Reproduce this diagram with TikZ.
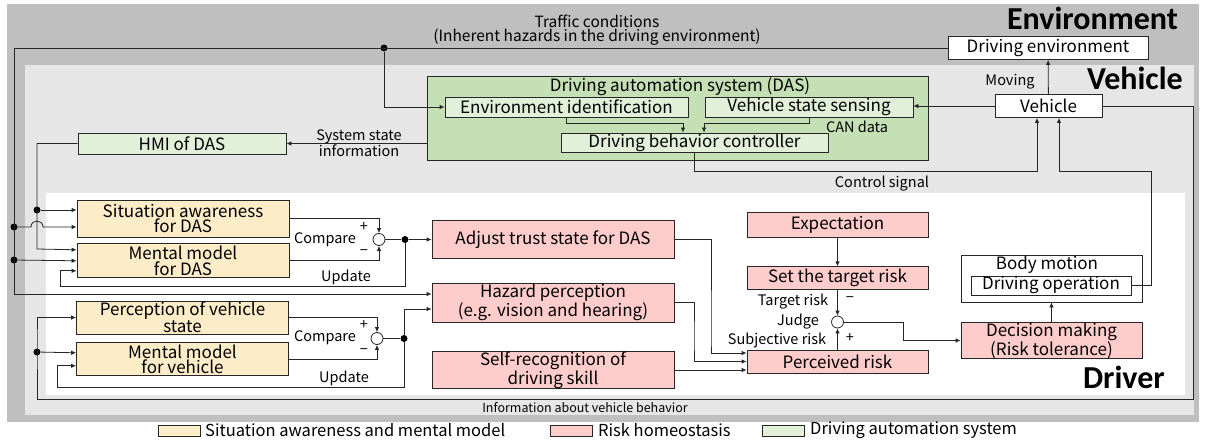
\documentclass[tikz,border=0pt]{standalone}
\usepackage{fontspec}
\setmainfont{Noto Sans CJK JP}
\newfontfamily\titlefont{Carlito}
\usetikzlibrary{arrows.meta, positioning, calc}

\definecolor{envgray}{HTML}{BFBFBF}
\definecolor{vehgray}{HTML}{E6E6E6}
\definecolor{dasgreen}{HTML}{C5E0B4}
\definecolor{daslight}{HTML}{E2F0D9}
\definecolor{sayellow}{HTML}{FCEDC8}
\definecolor{rhpink}{HTML}{FFCCCC}
\definecolor{linegray}{HTML}{262626}

\begin{document}
\begin{tikzpicture}[
    x=1pt, y=-1pt,
    font=\fontsize{17}{15.5}\selectfont,
    % base style for all boxes
    box/.style={
      rectangle,
      draw=linegray,
      line width=0.8pt,
      inner sep=0pt,
      align=center
    },
    % situation awareness and mental model
    sabox/.style={box, fill=sayellow, minimum width=212pt},
    % risk homeostasis
    rhbox/.style={box, fill=rhpink},
    % driving automation system
    dasbox/.style={box, fill=daslight},
    % white boxes (environment, vehicle, body)
    plainbox/.style={box, fill=white},
    % comparison circles
    sumnode/.style={circle, draw=linegray, line width=0.8pt, fill=white, minimum size=12pt, inner sep=0pt},
    % junction dots
    dot/.style={circle, fill=black, minimum size=7pt, inner sep=0pt},
    % connectors
    wire/.style={draw=linegray, line width=0.8pt},
    arr/.style={wire, -{Latex[length=5pt,width=4.5pt]}},
    % connector labels
    lbl/.style={font=\fontsize{14.5}{15}\selectfont, inner sep=0pt, align=center},
    % region titles
    regiontitle/.style={font=\titlefont\bfseries\fontsize{32}{32}\selectfont, inner sep=0pt},
    % legend
    legendbox/.style={box, minimum width=42pt, minimum height=11pt},
    legendtext/.style={font=\fontsize{16.5}{16.5}\selectfont, inner sep=0pt, anchor=west}
  ]
  \useasboundingbox (0,0) rectangle (1205,441);

  % --- REGIONS ---
  \fill[envgray] (7,4) rectangle (1199,422);
  \fill[vehgray] (25,65) rectangle (1194,415);
  \fill[white] (46,193) rectangle (1185,395);

  \node[regiontitle, anchor=base east] at (1178,30) {Environment};
  \node[regiontitle, anchor=base east] at (1183,90) {Vehicle};
  \node[regiontitle, anchor=base east] at (1165,388) {Driver};

  % --- ENVIRONMENT AND VEHICLE ---
  \node[plainbox, minimum width=200pt, minimum height=23pt] (drivenv) at (1048,48) {Driving environment};
  \node[plainbox, minimum width=107pt, minimum height=23pt] (vehicle) at (1048.5,106) {Vehicle};

  % Driving automation system
  \node[box, fill=dasgreen, minimum width=501pt, minimum height=84pt] (das) at (677.5,118) {};
  \node[inner sep=0pt] (dastitle) at (680,87) {Driving automation system (DAS)};
  \node[dasbox, minimum width=243pt, minimum height=20pt] (envid) at (566.5,107) {Environment identification};
  \node[dasbox, minimum width=208pt, minimum height=20pt] (vss) at (809,107) {Vehicle state sensing};
  \node[dasbox, minimum width=267pt, minimum height=19pt] (dbc) at (694.5,142.5) {Driving behavior controller};
  \node[dasbox, minimum width=208pt, minimum height=21pt] (hmi) at (182,143.5) {HMI of DAS};

  % --- DRIVER ---
  \node[sabox, minimum height=37pt] (sadas) at (183,218.5) {Situation awareness\\for DAS};
  \node[sabox, minimum height=34pt, below=6pt of sadas] (mmdas) {Mental model\\for DAS};
  \node[sabox, minimum height=33pt] (pvs) at (182.5,317.5) {Perception of vehicle\\state};
  \node[sabox, minimum height=33pt, below=8pt of pvs] (mmveh) {Mental model\\for vehicle};

  \node[sumnode] (cmp1) at (379,239.5) {};
  \node[sumnode] (cmp2) at (377,338.5) {};

  \node[rhbox, minimum width=242pt, minimum height=38pt] (trust) at (553,239.5) {Adjust trust state for DAS};
  \node[rhbox, minimum width=242pt, minimum height=39pt] (hazard) at (553,302.5) {Hazard perception\\(e.g. vision and hearing)};
  \node[rhbox, minimum width=242pt, minimum height=36pt] (selfrec) at (553,370) {Self-recognition of\\driving skill};

  \node[rhbox, minimum width=181pt, minimum height=25pt] (expect) at (837.5,224.5) {Expectation};
  \node[rhbox, minimum width=181pt, minimum height=23pt, below=29pt of expect] (target) {Set the target risk};
  \node[rhbox, minimum width=181pt, minimum height=23pt] (perceived) at (837.5,361.5) {Perceived risk};
  \node[sumnode] (judge) at (837.5,322) {};

  \node[plainbox, minimum width=181pt, minimum height=47pt] (body) at (1051.5,278.5) {};
  \node[inner sep=0pt] at (1047,265) {Body motion};
  \node[plainbox, minimum width=160pt, minimum height=19pt] (drvop) at (1051,285.5) {Driving operation};
  \node[rhbox, minimum width=181pt, minimum height=35pt] (decision) at (1051.5,340.5) {Decision making\\(Risk tolerance)};

  % junction dots
  \node[dot] (dtraf) at (384,48) {};
  \node[dot] (dsa) at (14,227) {};
  \node[dot] (dmm) at (14,260) {};
  \node[dot] (dhmi) at (37,210) {};
  \node[dot] (dcmp1) at (405,239.5) {};
  \node[dot] (dinfo) at (37,352) {};
  \node[dot] (dcmp2) at (404,338.5) {};

  % --- CONNECTORS ---
  % traffic conditions
  \draw[arr] (drivenv.west) -| (14,294) -- ([yshift=8.5pt]hazard.west);
  \draw[arr] (dtraf) |- (envid.west);
  \draw[arr] (dsa) -- (31,227) .. controls (31,219) and (43,219) .. (43,227) -- ([yshift=-8.5pt]sadas.west);
  \draw[arr] (dmm) -- (mmdas.west);

  % inside the vehicle
  \draw[arr] (vehicle) -- (drivenv);
  \draw[arr] (vehicle.west) -- (vss.east |- vehicle.west);
  \draw[arr] (envid.south) |- (683,123) -- ([xshift=-11.5pt]dbc.north);
  \draw[arr] (vss.south) |- (704,123) -- ([xshift=9.5pt]dbc.north);
  \draw[arr] (das.west |- hmi.east) -- (hmi.east);
  \draw[arr] (dbc.south) |- (1037,171) -| ([xshift=-11.5pt]vehicle.south);
  \draw[arr] (drvop.east) -| (1151,171) -| ([xshift=10.5pt]vehicle.south);

  % HMI to situation awareness and mental model
  \draw[arr] (hmi.west) -| (37,249) -- ([yshift=11pt]mmdas.west);
  \draw[arr] (dhmi) -- ([yshift=8.5pt]sadas.west);

  % compare loop for DAS
  \draw[arr] (sadas.east) -| (cmp1.north);
  \draw[arr] (mmdas.east) -| (cmp1.south);
  \draw[wire] (cmp1.east) -- (dcmp1);
  \draw[arr] (dcmp1) -- (trust.west);
  \draw[arr] (dcmp1) |- (60,286) |- ([yshift=-10pt]mmdas.west);

  % information about vehicle behavior
  \draw[arr] (vehicle.east) -| (1193,399) -| (37,340) |- (pvs.west);
  \draw[arr] (dinfo) -- ([yshift=6.5pt]mmveh.west);

  % compare loop for vehicle
  \draw[arr] (pvs.east) -| (cmp2.north);
  \draw[arr] (mmveh.east) -| (cmp2.south);
  \draw[wire] (cmp2.east) -- (dcmp2);
  \draw[arr] (dcmp2) |- ([yshift=-6.5pt]hazard.west);
  \draw[arr] (dcmp2) |- (57,387) |- ([yshift=-6.5pt]mmveh.west);

  % risk homeostasis
  \draw[arr] (trust.east) -| (711,340) |- ([yshift=8.5pt]perceived.west);
  \draw[arr] (hazard.east) -| (694,340) |- (perceived.west);
  \draw[arr] (selfrec.east) -- ([yshift=-8.5pt]perceived.west);
  \draw[arr] (expect) -- (target);
  \draw[arr] (target) -- (judge);
  \draw[arr] (perceived) -- (judge);
  \draw[arr] (judge.east) -| (903,330) |- (decision.west);
  \draw[arr] (decision) -- (body);

  % --- LABELS ---
  \node[lbl, font=\fontsize{15.5}{14.5}\selectfont] at (597,30) {Traffic conditions\\(Inherent hazards in the driving environment)};
  \node[lbl] at (1010,82) {Moving};
  \node[lbl] at (857,127) {CAN data};
  \node[lbl] at (359,143.5) {System state\\information};
  \node[lbl] at (882,184) {Control signal};
  \node[lbl] at (364,227) {+};
  \node[lbl] at (364,253) {−};
  \node[lbl] at (325,240) {Compare};
  \node[lbl] at (346,277) {Update};
  \node[lbl] at (364,325) {+};
  \node[lbl] at (364,352) {−};
  \node[lbl] at (325,338) {Compare};
  \node[lbl] at (344,378) {Update};
  \node[lbl] at (793,302) {Target risk};
  \node[lbl] at (798,322) {Judge};
  \node[lbl] at (777,340) {Subjective risk};
  \node[lbl] at (850,300) {−};
  \node[lbl] at (850,338) {+};
  \node[lbl, font=\fontsize{12.5}{12}\selectfont] at (585,408) {Information about vehicle behavior};

  % --- LEGEND ---
  \node[legendbox, fill=sayellow] (legsa) at (179,430.5) {};
  \node[legendtext] at (205,430.5) {Situation awareness and mental model};
  \node[legendbox, fill=rhpink] (legrh) at (571,430.5) {};
  \node[legendtext] at (598,430.5) {Risk homeostasis};
  \node[legendbox, fill=daslight] (legdas) at (783,430.5) {};
  \node[legendtext] at (810,430.5) {Driving automation system};

\end{tikzpicture}
\end{document}
